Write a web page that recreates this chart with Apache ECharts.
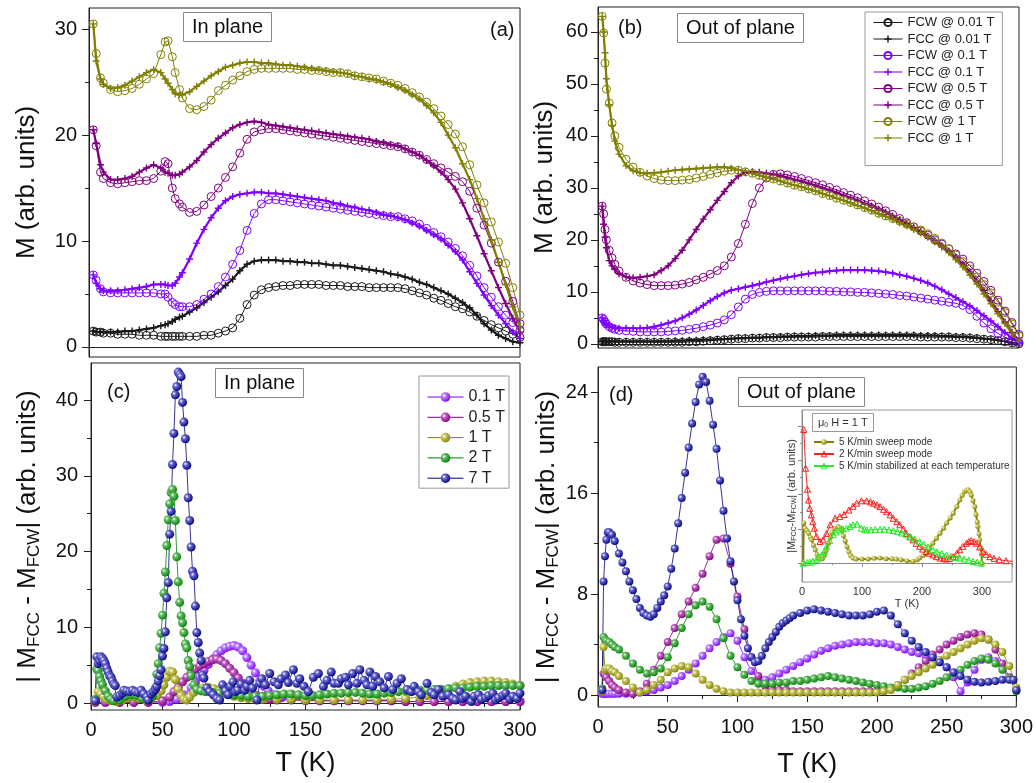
<!DOCTYPE html>
<html>
<head>
<meta charset="utf-8">
<script src="https://cdn.jsdelivr.net/npm/echarts@6/dist/echarts.min.js"></script>
<style>html,body{margin:0;padding:0;background:#fff}#main{width:1036px;height:783px}</style>
</head>
<body>
<div id="main"></div>
<script>
// temperature grids (K)
var tA = [3,5,8,10,15,20,25,30,35,40,45,50,53,55,58,60,63,65,70,75,80,85,90,95,100,105,110,115,120,125,130,135,140,145,150,155,160,165,170,175,180,185,190,195,200,205,210,215,220,225,230,235,240,245,250,255,260,265,270,275,280,285,290,295,300];
var tB = [3,4,5,6,8,10,12,15,20,25,30,35,40,45,50,55,60,65,70,75,80,85,90,95,100,105,110,115,120,125,130,135,140,145,150,155,160,165,170,175,180,185,190,195,200,205,210,215,220,225,230,235,240,245,250,255,260,265,270,275,280,285,290,295,300];

// (a) in plane M(T)
var aFcw001 = [1.5,1.4,1.4,1.3,1.3,1.2,1.2,1.2,1.1,1.1,1.1,1.0, 1.0,1.0,1.0,1.0,1.0,1.0, 1.0,1.0,1.1,1.1,1.3,1.5,1.8,2.7,4.0,4.9, 5.4,5.6,5.7,5.8,5.8,5.9,5.9,5.9,5.9,5.8, 5.8,5.8,5.7,5.7,5.7,5.6,5.6,5.6,5.6,5.6, 5.5,5.3,5.1,4.9,4.6,4.4,4.1,3.8,3.6,3.3, 2.9,2.5,2.1,1.8,1.5,1.2,0.9];
var aFcc001 = [1.5,1.4,1.4,1.4,1.4,1.4,1.5,1.5,1.6,1.7,1.8,2.0, 2.1,2.2,2.4,2.6,2.8,2.9, 3.3,3.7,4.2,4.7,5.2,5.8,6.4,7.2,7.8,8.1, 8.2,8.2,8.2,8.1,8.1,8.0,8.0,7.9,7.9,7.8, 7.7,7.7,7.6,7.5,7.4,7.3,7.2,7.1,6.9,6.8, 6.6,6.4,6.1,5.9,5.6,5.3,5.0,4.6,4.2,3.7, 3.0,2.2,1.6,1.1,0.8,0.5,0.4];
var aFcw01 = [6.8,6.3,5.5,5.2,5.1,5.1,5.1,5.1,5.1,5.1,5.1,5.0, 5.0,4.7,4.2,4.0,3.8,3.8, 3.8,4.0,4.5,5.0,5.7,6.6,7.8,9.1,11.0,12.6, 13.5,13.9,13.9,13.8,13.7,13.6,13.5,13.4,13.3,13.2, 13.1,13.0,12.9,12.8,12.7,12.6,12.5,12.4,12.3,12.3, 12.1,11.9,11.6,11.2,10.8,10.4,9.9,9.3,8.6,7.7, 6.7,5.6,4.7,3.8,3.0,2.3,1.6];
var aFcc01 = [6.8,6.0,5.5,5.3,5.3,5.3,5.4,5.5,5.6,5.7,5.9,5.9, 5.9,5.8,5.8,6.0,6.6,7.0, 8.3,9.8,11.1,12.2,13.1,13.8,14.2,14.4,14.5,14.6, 14.6,14.5,14.5,14.4,14.3,14.2,14.1,14.0,13.9,13.8, 13.6,13.5,13.3,13.2,13.0,12.9,12.7,12.5,12.4,12.2, 12.0,11.7,11.4,11.0,10.6,10.2,9.6,9.0,8.2,7.1, 6.0,4.9,3.9,3.0,2.2,1.4,0.8];
var aFcw05 = [20.5,19.0,16.5,15.9,15.5,15.4,15.5,15.6,15.7,15.7,15.9,16.6, 17.5,17.3,15.0,14.0,13.5,13.2, 12.7,12.8,13.4,14.2,15.0,16.0,17.0,18.3,19.6,20.3, 20.5,20.6,20.6,20.5,20.4,20.3,20.2,20.1,20.0,19.9, 19.8,19.7,19.6,19.5,19.4,19.3,19.2,19.1,19.0,18.9, 18.7,18.4,18.1,17.7,17.3,16.9,16.5,16.1,15.6,14.7, 13.1,11.5,9.8,8.0,6.2,4.3,2.2];
var aFcc05 = [20.5,19.2,17.2,16.5,15.8,15.8,15.9,16.1,16.5,16.9,17.2,16.9, 16.5,16.4,16.2,16.2,16.3,16.5, 17.0,17.6,18.4,19.1,19.7,20.2,20.7,21.0,21.2,21.3, 21.2,21.0,20.9,20.8,20.7,20.6,20.5,20.4,20.3,20.2, 20.1,20.0,19.9,19.8,19.7,19.6,19.4,19.3,19.1,19.0, 18.7,18.4,18.1,17.6,17.1,16.5,15.8,14.9,13.6,12.1, 10.5,8.8,7.2,5.6,4.1,2.7,1.4];
var aFcw1 = [30.5,27.7,25.4,24.9,24.3,24.1,24.2,24.4,24.8,25.3,25.8,27.6, 28.8,28.9,27.4,25.9,24.3,23.5, 22.5,22.4,22.7,23.3,24.2,24.7,25.2,25.6,26.0,26.2, 26.3,26.3,26.3,26.3,26.3,26.2,26.2,26.1,26.1,26.0, 25.9,25.9,25.8,25.6,25.5,25.4,25.3,25.1,24.9,24.7, 24.4,24.0,23.6,23.1,22.5,21.8,21.0,20.1,18.9,17.2, 15.3,13.6,11.8,9.9,7.9,5.6,3.0];
var aFcc1 = [30.5,27.0,25.3,24.8,24.4,24.5,24.7,25.1,25.5,25.9,26.2,25.9, 25.3,24.9,24.3,23.9,23.8,23.8, 24.1,24.6,25.1,25.6,26.0,26.4,26.6,26.8,26.9,26.9, 26.8,26.8,26.7,26.6,26.6,26.5,26.4,26.3,26.2,26.1, 26.0,25.9,25.8,25.6,25.5,25.3,25.2,25.0,24.8,24.5, 24.2,23.8,23.4,22.8,22.1,21.2,20.0,18.8,17.3,15.8, 14.0,12.1,10.1,8.0,5.9,3.8,1.8];

// (b) out of plane M(T)
var bFcw001 = [0.4,0.4,0.4,0.4,0.4,0.4,0.3, 0.3,0.3,0.3,0.3,0.3,0.3,0.3,0.3,0.3,0.3, 0.4,0.4,0.5,0.6,0.7,0.8,0.9,1.0,1.0,1.1, 1.1,1.2,1.2,1.2,1.3,1.3,1.3,1.3,1.3,1.4, 1.4,1.4,1.4,1.4,1.4,1.4,1.4,1.4,1.4,1.4, 1.4,1.4,1.4,1.3,1.3,1.3,1.3,1.3,1.2,1.2, 1.1,1.0,0.9,0.8,0.6,0.4,0.2,0.0];
var bFcc001 = [0.5,0.5,0.5,0.5,0.5,0.5,0.5, 0.5,0.5,0.5,0.5,0.5,0.5,0.5,0.5,0.6,0.6, 0.7,0.7,0.8,0.8,0.9,0.9,1.0,1.1,1.1,1.2, 1.2,1.3,1.3,1.4,1.4,1.5,1.5,1.5,1.6,1.6, 1.6,1.7,1.7,1.7,1.7,1.7,1.7,1.7,1.7,1.7, 1.7,1.7,1.7,1.6,1.6,1.6,1.5,1.5,1.4,1.4, 1.3,1.2,1.0,0.9,0.7,0.5,0.2,0.0];
var bFcw01 = [5.0,4.7,4.2,3.8,3.3,3.0,2.8, 2.6,2.5,2.4,2.3,2.3,2.3,2.3,2.4,2.5,2.6, 2.8,3.0,3.3,3.6,4.0,4.6,5.6,7.1,8.6,9.5, 9.9,10.1,10.2,10.2,10.2,10.2,10.2,10.2,10.2,10.2, 10.1,10.1,10.0,10.0,9.9,9.9,9.8,9.7,9.6,9.5, 9.3,9.2,9.0,8.8,8.6,8.4,8.2,8.0,7.8,7.4, 6.6,5.3,4.0,2.9,2.0,1.3,0.7,0.3];
var bFcc01 = [5.0,4.5,4.0,3.7,3.4,3.2,3.1, 3.0,3.0,3.0,3.0,3.1,3.3,3.6,4.0,4.4,5.0, 5.7,6.5,7.4,8.3,9.1,9.8,10.3,10.6,10.9,11.2, 11.5,11.9,12.2,12.5,12.8,13.0,13.3,13.5,13.7,13.8, 14.0,14.1,14.2,14.2,14.2,14.2,14.1,14.0,13.8,13.6, 13.3,13.0,12.6,12.2,11.7,11.1,10.4,9.6,8.9,8.1, 7.3,6.4,5.4,4.4,3.3,2.2,1.1,0.3];
var bFcw05 = [26.5,25.0,22.0,20.0,18.0,16.5,15.3, 14.0,12.8,12.1,11.7,11.4,11.2,11.2,11.2,11.3,11.5, 11.8,12.3,12.8,13.4,14.1,15.0,16.7,19.3,23.0,27.0, 30.0,31.9,32.6,32.7,32.5,32.2,31.8,31.4,31.0,30.6, 30.1,29.6,29.1,28.6,28.1,27.5,26.9,26.3,25.6,24.9, 24.1,23.3,22.5,21.7,20.9,20.0,19.2,18.3,17.3,16.3, 15.0,13.6,12.0,10.3,8.4,6.3,4.1,1.8];
var bFcc05 = [26.5,23.0,20.5,18.5,16.0,15.0,14.3, 13.5,12.9,12.7,12.8,13.0,13.3,14.1,15.0,16.4,18.0, 20.0,22.0,24.0,25.8,27.6,29.3,31.0,32.3,32.9,33.1, 33.0,32.8,32.6,32.3,32.0,31.6,31.3,30.9,30.5,30.0, 29.6,29.1,28.6,28.1,27.6,27.0,26.5,25.9,25.3,24.6, 23.9,23.2,22.4,21.6,20.7,19.8,18.8,17.8,16.6,15.3, 13.8,12.1,10.3,8.3,6.2,4.2,2.2,0.6];
var bFcw1 = [63.0,59.8,54.0,49.0,46.3,42.5,40.0, 37.8,35.5,34.0,33.0,32.3,31.8,31.5,31.4,31.4,31.5, 31.6,31.9,32.2,32.6,32.9,33.2,33.4,33.4,33.1,32.8, 32.4,32.0,31.7,31.3,30.9,30.5,30.2,29.8,29.4,28.9, 28.5,28.0,27.6,27.2,26.7,26.2,25.7,25.1,24.6,24.1, 23.6,23.0,22.5,21.9,21.2,20.3,19.4,18.3,17.1,15.8, 14.4,12.9,11.4,9.8,8.0,6.0,3.8,1.5];
var bFcc1 = [63.0,60.0,56.0,51.0,46.0,42.0,39.0, 36.5,34.3,33.3,32.9,32.8,32.9,33.0,33.2,33.4,33.5, 33.6,33.7,33.8,33.9,34.0,34.0,33.8,33.5,33.2,32.8, 32.4,32.0,31.7,31.3,30.9,30.5,30.2,29.8,29.4,28.9, 28.5,28.0,27.6,27.1,26.6,26.1,25.6,25.0,24.5,23.9, 23.3,22.7,22.0,21.3,20.5,19.6,18.6,17.5,16.2,14.8, 13.2,11.5,9.6,7.7,5.8,3.9,2.0,0.5];

// (c) in plane |Mfcc - Mfcw|, [T, value]
var cPurple = [[3,0.1],[10,0.1],[20,0.1],[30,0.1],[40,0.1],[50,0.1],[55,0.2],[60,0.5],[65,1.1],[70,2.0],[73,2.7],[76,3.5],[79,4.3],[82,5.1],[85,5.8],[88,6.4],[91,6.9],[94,7.3],[97,7.5],[100,7.6],[103,7.4],[106,6.9],[109,6.0],[112,5.0],[115,4.0],[118,3.0],[121,2.2],[124,1.6],[128,1.1],[133,0.7],[140,0.5],[150,0.4],[160,0.3],[170,0.3],[180,0.3],[190,0.3],[200,0.3],[210,0.3],[220,0.2],[230,0.2],[240,0.2],[250,0.2],[260,0.2],[270,0.2],[280,0.2],[290,0.2],[300,0.2]];
var cMagenta = [[3,0.1],[10,0.1],[20,0.1],[30,0.1],[40,0.1],[50,0.3],[55,0.8],[58,1.5],[61,2.1],[64,2.8],[67,3.4],[70,4.0],[73,4.5],[76,4.9],[79,5.2],[82,5.5],[85,5.7],[88,5.8],[91,5.6],[94,5.2],[97,4.6],[100,4.0],[103,3.3],[106,2.6],[109,2.0],[112,1.5],[116,1.0],[120,0.7],[125,0.5],[130,0.4],[140,0.4],[150,0.3],[160,0.3],[170,0.3],[180,0.3],[190,0.3],[200,0.3],[210,0.3],[220,0.2],[230,0.2],[240,0.2],[250,0.2],[260,0.2],[270,0.2],[280,0.2],[290,0.2],[300,0.2]];
var cOlive = [[3,0.2],[5,1.5],[7,1.2],[9,0.8],[11,0.5],[14,0.3],[18,0.2],[22,0.4],[26,0.7],[30,0.8],[34,0.6],[38,0.4],[42,0.6],[46,1.0],[49,1.6],[51,2.4],[53,3.4],[55,4.2],[57,4.1],[59,3.1],[61,1.8],[63,1.0],[65,0.5],[67,0.4],[69,0.8],[72,1.4],[75,1.8],[78,2.0],[82,2.1],[86,1.9],[90,1.6],[95,1.2],[100,0.9],[105,0.7],[110,0.6],[115,0.5],[120,0.5],[130,0.5],[140,0.5],[150,0.4],[160,0.4],[170,0.4],[180,0.4],[190,0.4],[200,0.4],[210,0.5],[220,0.6],[230,0.8],[235,1.0],[240,1.3],[245,1.6],[250,1.9],[255,2.2],[260,2.5],[265,2.7],[270,2.8],[275,2.9],[280,2.9],[285,2.8],[290,2.7],[295,2.5],[300,2.3]];
var cGreen = [[3,0.5],[4,4.5],[5,4.3],[6,3.5],[7,2.9],[8,2.4],[10,1.6],[12,0.9],[14,0.5],[16,0.3],[20,0.4],[24,0.9],[28,1.1],[32,1.0],[36,0.6],[40,0.4],[43,0.9],[45,2.0],[46,3.8],[47,5.2],[48,7.3],[49,9.2],[50,11.6],[51,14.5],[52,17.3],[53,20.8],[54,24.2],[55,26.3],[56,27.8],[57,28.2],[58,27.3],[59,24.1],[60,19.3],[61,16.0],[62,13.3],[63,11.5],[64,10.6],[65,9.3],[66,7.8],[67,7.3],[68,5.6],[69,4.8],[70,3.6],[72,2.4],[74,1.8],[77,1.6],[80,1.5],[85,1.4],[90,1.3],[95,1.2],[100,1.1],[105,1.0],[110,0.9],[115,0.9],[120,0.9],[125,1.0],[130,1.1],[135,1.2],[140,1.2],[145,1.1],[150,1.0],[155,1.0],[160,1.1],[165,1.2],[170,1.3],[175,1.3],[180,1.4],[185,1.4],[190,1.3],[195,1.2],[200,1.2],[205,1.3],[210,1.4],[215,1.5],[220,1.6],[225,1.6],[230,1.7],[235,1.7],[240,1.8],[245,1.8],[250,1.9],[255,2.0],[260,2.0],[265,2.1],[270,2.2],[275,2.2],[280,2.3],[285,2.3],[290,2.3],[295,2.3],[300,2.3]];
var cNavy = [[3,0.3],[4,6.1],[5,5.2],[6,5.6],[7,6.1],[8,5.9],[9,5.6],[10,5.2],[11,4.6],[12,4.1],[13,3.6],[14,3.4],[15,2.9],[16,2.5],[17,2.3],[18,0.8],[20,1.0],[22,1.3],[23,1.7],[25,1.6],[27,1.5],[29,1.7],[31,1.5],[33,1.4],[35,1.7],[37,1.2],[39,0.8],[40,0.4],[42,1.2],[43.5,1.5],[45,1.8],[46,2.2],[47,2.9],[48,3.6],[49,4.4],[50,6.2],[51,7.2],[52,9.4],[53,13.9],[54,15.9],[55,22.3],[56,25.3],[57,31.5],[58,35.6],[59,40.7],[60,41.8],[61,43.7],[62,43.4],[63,43.1],[64,39.7],[65,37.1],[66,34.9],[67,31.4],[68,27.1],[69,24.1],[70,20.6],[71,17.4],[72,16.8],[73,12.8],[74,9.3],[75,8.0],[76,6.6],[77,5.6],[78,3.7],[79,3.3],[81,2.0],[83,1.5],[85.5,1.1],[88,0.6],[90,0.4],[92,2.4],[94,1.6],[96,1.1],[97.5,2.2],[99.3,2.8],[101,1.5],[102.7,1.7],[105,2.5],[107.5,1.7],[109,2.2],[111,3.0],[113,2.0],[116,0.4],[118,2.6],[119.5,3.2],[122,2.4],[125,3.9],[128,2.8],[131,2.4],[133,3.2],[136,3.7],[138,2.7],[141.5,4.4],[144,2.6],[146,3.2],[149,2.2],[152,1.5],[155.5,3.4],[159,3.9],[162.5,2.2],[165,3.0],[168,4.1],[170,2.6],[173,2.6],[175,3.2],[178,3.4],[180,2.4],[183,3.9],[186,2.6],[188,4.4],[191,3.0],[193,2.4],[195,4.1],[197,2.2],[199,3.5],[202,2.8],[205,2.0],[208,3.5],[211,1.8],[214,2.6],[217,3.2],[221,1.8],[224,1.5],[226,2.2],[229,1.5],[231,1.1],[235,2.6],[238,1.4],[240,1.1],[243,1.8],[246,0.9],[250,1.1],[253,0.6],[255,0.4],[258,1.5],[260,0.6],[262,0.9],[266,0.2],[268,0.9],[271,1.1],[273,0.5],[276,0.7],[278,1.0],[281,1.3],[283,0.4],[285,0.7],[288,1.0],[290,1.3],[293,0.5],[295,0.9],[298,0.6],[300,1.3]];

// (d) out of plane |Mfcc - Mfcw| on tB, navy as [T, value]
var dPurple = [0.1,0.1,0.1,0.1,0.1,0.1,0.1, 0.1,0.1,0.1,0.2,0.3,0.4,0.6,0.8,1.1,1.5, 2.0,2.5,3.1,3.7,4.2,4.6,4.9,4.3,3.0,1.9, 1.3,1.2,1.4,1.7,2.0,2.3,2.6,2.9,3.2,3.5, 3.7,3.9,4.0,4.1,4.2,4.2,4.2,4.1,4.1,4.0, 3.8,3.6,3.4,3.3,3.1,2.9,2.6,2.2,1.4,0.3, 1.0,2.0,2.8,3.0,2.7,2.1,1.3,0.4];
var dMagenta = [0.5,1.7,1.6,1.4,1.1,0.8,0.6, 0.4,0.2,0.1,0.3,0.9,2.0,3.1,4.2,5.3,6.4, 7.4,8.5,9.6,11.0,12.3,12.4,10.4,7.8,5.2,3.0, 1.5,0.7,0.5,0.4,0.4,0.3,0.3,0.3,0.3,0.3, 0.3,0.3,0.3,0.3,0.3,0.3,0.3,0.3,0.4,0.5, 0.8,1.2,1.7,2.2,2.7,3.2,3.6,4.0,4.3,4.6, 4.8,4.9,4.8,4.4,3.6,2.5,1.4,0.4];
var dGreen = [0.5,4.6,4.4,4.3,4.2,4.0,3.8, 3.6,3.1,2.5,2.0,1.7,1.8,2.1,3.0,4.1,5.3, 6.4,7.1,7.4,7.0,6.0,4.5,3.1,2.2,1.6,1.1, 0.9,0.9,0.9,1.0,1.0,1.1,1.1,1.2,1.3,1.4, 1.5,1.4,1.3,1.2,1.1,1.0,0.9,0.8,0.7,0.6, 0.6,0.5,0.5,0.6,0.7,0.9,1.1,1.4,1.7,2.0, 2.4,2.7,2.9,2.8,2.5,2.0,1.3,0.3];
var dOlive = [0.3,3.8,2.0,2.1,2.1,1.9,1.8, 1.5,1.1,0.6,0.2,0.4,0.8,1.2,1.8,2.1,2.3, 2.2,1.7,1.2,0.8,0.5,0.3,0.2,0.2,0.2,0.2, 0.2,0.2,0.2,0.2,0.2,0.2,0.2,0.2,0.2,0.2, 0.2,0.2,0.2,0.2,0.2,0.2,0.2,0.2,0.3,0.4, 0.8,1.2,1.5,1.8,2.1,2.4,2.8,3.1,3.4,3.7, 4.0,4.3,4.5,4.4,4.0,3.4,2.3,0.6];
var dNavy = [[3,0.4],[4,9.0],[5,11.0],[6,12.3],[7,12.9],[8,12.9],[10,12.7],[12,12.2],[15,11.2],[17.5,10.5],[20,9.8],[22.5,9.0],[25,8.3],[27.5,7.6],[30,6.9],[32.5,6.5],[35,6.3],[37.5,6.2],[40,6.4],[42.5,6.9],[45,7.4],[47.5,7.9],[50,8.6],[52.5,10.0],[55,11.6],[57.5,13.6],[60,15.6],[62.5,17.6],[65,19.6],[67.5,21.5],[70,23.2],[72.5,24.6],[75,25.2],[77.5,24.8],[80,23.3],[82.5,21.4],[85,19.5],[87.5,17.0],[90,14.6],[92.5,12.4],[95,10.6],[97.5,9.0],[100,7.5],[102.5,6.0],[105,4.7],[107.5,3.7],[110,3.0],[112.5,2.6],[115,2.7],[117.5,3.1],[120,3.7],[122.5,4.2],[125,4.6],[127.5,5.0],[130,5.4],[132.5,5.7],[135,5.9],[137.5,6.1],[140,6.3],[145,6.5],[150,6.7],[155,6.8],[160,6.7],[165,6.6],[170,6.5],[175,6.4],[180,6.3],[185,6.3],[190,6.3],[195,6.4],[200,6.6],[205,6.7],[210,6.3],[215,5.6],[220,4.9],[225,4.3],[230,3.8],[235,3.4],[240,3.0],[245,2.6],[250,2.2],[255,1.8],[260,1.5],[265,1.2],[270,1.05],[275,1.0],[280,1.05],[285,1.1],[290,1.2],[295,1.2],[298,1.2],[300,0.4]];

// inset (1 T, out of plane)
var insOlive = [[2,0],[3,1.17],[5,1.02],[8,0.95],[11,0.87],[14,0.75],[16,0.68],[19,0.52],[22,0.39],[25,0.25],[28,0.15],[31,0.12],[34,0.13],[37,0.22],[40,0.36],[44,0.58],[47,0.75],[50,0.9],[55,1.02],[60,1.07],[63,1.03],[66,0.97],[69,0.8],[72,0.65],[75,0.48],[78,0.33],[81,0.22],[85,0.15],[90,0.12],[100,0.12],[110,0.12],[120,0.14],[130,0.15],[140,0.13],[150,0.13],[157,0.12],[165,0.1],[175,0.07],[185,0.05],[192,0.1],[196,0.15],[202,0.22],[207,0.29],[212,0.42],[218,0.58],[224,0.73],[230,0.87],[236,1.02],[241,1.17],[247,1.32],[252,1.46],[258,1.65],[263,1.84],[267,1.98],[271,2.09],[274,2.13],[277,2.14],[280,2.08],[282,1.99],[285,1.83],[288,1.65],[290,1.42],[292,1.2],[293,1.07],[295,0.85],[296,0.68],[298,0.45],[299,0.27],[300,0]];
var insRed = [[3,3.9],[6,2.77],[9,2.16],[11,1.84],[13,1.6],[15.5,1.41],[18,1.21],[20.5,1.02],[24,0.78],[30,0.63],[35,0.68],[41,0.87],[47,1.12],[55,1.31],[63,1.36],[70,1.42],[78,1.55],[85,1.66],[91,1.75],[99,1.82],[108,1.82],[114,1.79],[119,1.75],[125,1.7],[130,1.65],[136,1.57],[141,1.5],[147,1.41],[152,1.31],[158,1.21],[163,1.12],[169,1.0],[174,0.87],[180,0.77],[185,0.68],[190,0.58],[196,0.49],[201,0.41],[207,0.34],[212,0.29],[218,0.24],[224,0.19],[230,0.15],[236,0.13],[241,0.12],[246,0.14],[252,0.19],[258,0.29],[263,0.39],[268,0.49],[274,0.58],[278,0.63],[282,0.66],[287,0.63],[291,0.58],[296,0.47],[302,0.34],[307,0.26],[313,0.19],[320,0.14],[329,0.1],[340,0.07],[352,0.05]];
var insGreen = [[2,0],[8,0.02],[13,0.03],[18,0.06],[24,0.1],[28,0.16],[33,0.24],[37,0.34],[41,0.49],[46,0.66],[52,0.83],[57,0.91],[63,0.97],[68,1.0],[74,1.02],[80,1.07],[85,1.12],[92,1.14],[99,1.02],[104,0.99],[108,0.97],[115,0.97],[122,0.98],[130,0.99],[137,0.99],[145,0.97],[152,0.95],[159,0.92],[166,0.88],[174,0.83],[181,0.77],[188,0.7],[196,0.63],[203,0.55],[210,0.47],[218,0.39],[225,0.33],[233,0.28],[241,0.24],[248,0.2],[256,0.17],[263,0.15],[270,0.12],[278,0.09],[285,0.05],[292,0.03],[299,0]];

// tick values
var yTicksA = [0,10,20,30], yMinorA = [5,15,25];
var yTicksB = [0,10,20,30,40,50,60], yMinorB = [5,15,25,35,45,55];
var yTicksC = [0,10,20,30,40], yMinorC = [5,15,25,35];
var yTicksD = [0,8,16,24], yMinorD = [4,12,20];
var yTicksIns = [0,1,2,3,4], yMinorIns = [0.5,1.5,2.5,3.5];

var FONT = 'Liberation Sans, Arial, Helvetica, sans-serif';
var BLACK = '#1a1a1a', PURPLE = '#8000ff', MAGENTA = '#800080', OLIVE = '#808000', GREEN = '#008000', NAVY = '#000080';
var RED = '#ff2020', LIME = '#22ee22';
var PLUS = 'path://M4,0H6V4H10V6H6V10H4V6H0V4H4Z';

var chart = echarts.init(document.getElementById('main'));

function zip(t, v) {
    return t.map(function (x, i) { return [x, v[i]]; });
}
// open circles (FCW)
function fcw(name, color, g, t, v) {
    return {
        name: name, type: 'line', xAxisIndex: g, yAxisIndex: g, data: zip(t, v),
        symbol: 'circle', symbolSize: 8,
        itemStyle: { color: 'rgba(255,255,255,0)', borderColor: color, borderWidth: 1 },
        lineStyle: { color: color, width: 1 }
    };
}
// crosses (FCC)
function fcc(name, color, g, t, v) {
    return {
        name: name, type: 'line', xAxisIndex: g, yAxisIndex: g, data: zip(t, v),
        symbol: PLUS, symbolSize: 7,
        itemStyle: { color: color },
        lineStyle: { color: color, width: 2.2 }
    };
}
// shaded balls
function ball(name, color, light, g, data, size) {
    return {
        name: name, type: 'line', xAxisIndex: g, yAxisIndex: g, data: data,
        symbol: 'circle', symbolSize: size || 9,
        itemStyle: {
            color: { type: 'radial', x: 0.35, y: 0.35, r: 0.7,
                colorStops: [{ offset: 0, color: '#ffffff' }, { offset: 0.3, color: light }, { offset: 1, color: color }] }
        },
        lineStyle: { color: color, width: 0.8 }
    };
}
function tri(name, color, g, data) {
    return {
        name: name, type: 'line', xAxisIndex: g, yAxisIndex: g, data: data,
        symbol: 'triangle', symbolSize: 6,
        itemStyle: { color: 'rgba(255,255,255,0)', borderColor: color, borderWidth: 1 },
        lineStyle: { color: color, width: 1 }
    };
}
// main y axis
function yMain(g, min, max, ticks, margin, name, gap, nameStyle) {
    return {
        gridIndex: g, type: 'value', min: min, max: max,
        axisLine: { show: true, lineStyle: { color: '#222' } },
        axisTick: { customValues: ticks, length: 7, lineStyle: { color: '#222' } },
        axisLabel: { customValues: ticks, fontSize: 20, color: '#111', margin: margin },
        splitLine: { show: false },
        name: name, nameLocation: 'middle', nameGap: gap, nameTextStyle: nameStyle
    };
}
// extra y axis carrying only the minor ticks
function yMinor(g, min, max, ticks, len, color) {
    return {
        gridIndex: g, type: 'value', min: min, max: max, position: 'left',
        axisLine: { show: false },
        axisTick: { customValues: ticks, length: len, lineStyle: { color: color } },
        axisLabel: { show: false }, splitLine: { show: false }
    };
}
function xTop(g) {
    return {
        gridIndex: g, type: 'value', min: 0, max: 300,
        axisLine: { lineStyle: { color: '#222' } }, axisTick: { show: false },
        axisLabel: { show: false }, splitLine: { show: false }
    };
}
function xBottom(g, gap) {
    return {
        gridIndex: g, type: 'value', min: 0, max: 300, interval: 50,
        axisLine: { lineStyle: { color: '#222' } },
        axisTick: { length: 7, lineStyle: { color: '#222' } },
        minorTick: { show: true, splitNumber: 2, length: 4, lineStyle: { color: '#222' } },
        axisLabel: { fontSize: 20, color: '#111', margin: 10 },
        splitLine: { show: false }, minorSplitLine: { show: false },
        name: 'T (K)', nameLocation: 'middle', nameGap: gap,
        nameTextStyle: { fontSize: 27, color: '#111' }
    };
}
function legendItem(name, color, symbolFill) {
    return { name: name, itemStyle: { color: symbolFill, borderColor: color, borderWidth: 1 } };
}

var diffName = '| M{s|FCC} - M{s|FCW}| (arb. units)';
var diffStyle = { fontSize: 26, color: '#111', rich: { s: { fontSize: 17, color: '#111', padding: [14, 0, 0, 0] } } };
var mStyle = { fontSize: 26, color: '#111' };

function boxTitle(text, left, top, size) {
    return {
        text: text, left: left, top: top, padding: [4, 9], borderColor: '#888', borderWidth: 1,
        textStyle: { fontSize: size || 20, fontWeight: 'normal', color: '#111', lineHeight: 22 }
    };
}
function plainTitle(text, left, top) {
    return { text: text, left: left, top: top, padding: 0,
        textStyle: { fontSize: 20, fontWeight: 'normal', color: '#111', lineHeight: 20 } };
}

var option = {
    animation: false,
    textStyle: { fontFamily: FONT },
    title: [
        boxTitle('In plane', 183, 12), plainTitle('(a)', 490, 20),
        boxTitle('Out of plane', 677, 13), plainTitle('(b)', 618, 18),
        boxTitle('In plane', 215, 368), plainTitle('(c)', 107, 382),
        boxTitle('Out of plane', 738, 377), plainTitle('(d)', 609, 385),
        {
            text: 'μ{s|0} H = 1 T', left: 812, top: 413, padding: [3, 6], borderColor: '#999', borderWidth: 1,
            textStyle: { fontSize: 11, fontWeight: 'normal', color: '#333', lineHeight: 13,
                rich: { s: { fontSize: 7, color: '#333', padding: [6, 0, 0, 0] } } }
        }
    ],
    legend: [
        {
            data: ['FCW @ 0.01 T', 'FCC @ 0.01 T', 'FCW @ 0.1 T', 'FCC @ 0.1 T', 'FCW @ 0.5 T', 'FCC @ 0.5 T', 'FCW @ 1 T', 'FCC @ 1 T'],
            left: 865, top: 12, orient: 'vertical', selectedMode: false,
            itemWidth: 29, itemHeight: 9, itemGap: 3.5,
            padding: [4, 8, 21, 8], borderColor: '#999', borderWidth: 1,
            lineStyle: { width: 1 },
            textStyle: { fontSize: 13, color: '#222' }
        },
        {
            data: ['0.1 T', '0.5 T', '1 T', '2 T', '7 T'],
            left: 419, top: 376, orient: 'vertical', selectedMode: false,
            itemWidth: 36, itemHeight: 12, itemGap: 4.3,
            padding: [13, 4, 2, 8], borderColor: '#999', borderWidth: 1,
            lineStyle: { width: 1 },
            textStyle: { fontSize: 16, color: '#222' }
        },
        {
            data: [
                '5 K/min sweep mode',
                legendItem('2 K/min sweep mode', RED, 'rgba(255,255,255,0)'),
                legendItem('5 K/min stabilized at each temperature', LIME, 'rgba(255,255,255,0)')
            ],
            left: 813, top: 437, orient: 'vertical', selectedMode: false,
            itemWidth: 20, itemHeight: 7, itemGap: 2, padding: 0,
            textStyle: { fontSize: 10, color: '#333' }
        }
    ],
    grid: [
        { left: 89, top: 8, width: 431, height: 349, show: true, borderColor: '#222', borderWidth: 1 },
        { left: 598, top: 7, width: 421, height: 341, show: true, borderColor: '#222', borderWidth: 1 },
        { left: 91, top: 363, width: 429, height: 347, show: true, borderColor: '#222', borderWidth: 1 },
        { left: 598, top: 367, width: 419, height: 340, show: true, borderColor: '#222', borderWidth: 1 },
        { left: 802, top: 410, width: 210, height: 172, show: true, borderColor: '#999', borderWidth: 1, backgroundColor: '#fff' }
    ],
    xAxis: [
        xTop(0), xTop(1), xBottom(2, 40), xBottom(3, 44),
        {
            gridIndex: 4, type: 'value', min: 0, max: 350, interval: 100,
            axisLine: { lineStyle: { color: '#888' } },
            axisTick: { length: 4, lineStyle: { color: '#888' } },
            minorTick: { show: true, splitNumber: 2, length: 2, lineStyle: { color: '#888' } },
            axisLabel: { fontSize: 11, color: '#333', margin: 4, showMaxLabel: false },
            splitLine: { show: false }, minorSplitLine: { show: false },
            name: 'T (K)', nameLocation: 'middle', nameGap: 16, nameTextStyle: { fontSize: 11, color: '#333' }
        }
    ],
    yAxis: [
        yMain(0, -0.95, 32, yTicksA, 12, 'M (arb. units)', 49, mStyle),
        yMain(1, -0.8, 64.8, yTicksB, 10, 'M (arb. units)', 40, mStyle),
        yMain(2, -0.92, 44.9, yTicksC, 13, diffName, 48, diffStyle),
        yMain(3, -0.95, 25.98, yTicksD, 10, diffName, 36, diffStyle),
        {
            gridIndex: 4, type: 'value', min: -0.55, max: 4.47,
            axisLine: { show: true, lineStyle: { color: '#888' } },
            axisTick: { customValues: yTicksIns, length: 4, lineStyle: { color: '#888' } },
            axisLabel: { show: false }, splitLine: { show: false },
            name: '|M{s|FCC}-M{s|FCW}| (arb. units)', nameLocation: 'middle', nameGap: 4,
            nameTextStyle: { fontSize: 11, color: '#333', rich: { s: { fontSize: 7, color: '#333', padding: [6, 0, 0, 0] } } }
        },
        yMinor(0, -0.95, 32, yMinorA, 4, '#222'),
        yMinor(1, -0.8, 64.8, yMinorB, 4, '#222'),
        yMinor(2, -0.92, 44.9, yMinorC, 4, '#222'),
        yMinor(3, -0.95, 25.98, yMinorD, 4, '#222'),
        yMinor(4, -0.55, 4.47, yMinorIns, 2, '#888')
    ],
    series: [
        // (a)
        fcw('FCW @ 0.01 T (a)', BLACK, 0, tA, aFcw001),
        fcc('FCC @ 0.01 T (a)', BLACK, 0, tA, aFcc001),
        fcw('FCW @ 0.1 T (a)', PURPLE, 0, tA, aFcw01),
        fcc('FCC @ 0.1 T (a)', PURPLE, 0, tA, aFcc01),
        fcw('FCW @ 0.5 T (a)', MAGENTA, 0, tA, aFcw05),
        fcc('FCC @ 0.5 T (a)', MAGENTA, 0, tA, aFcc05),
        fcw('FCW @ 1 T (a)', OLIVE, 0, tA, aFcw1),
        fcc('FCC @ 1 T (a)', OLIVE, 0, tA, aFcc1),
        // (b)
        fcw('FCW @ 0.01 T', BLACK, 1, tB, bFcw001),
        fcc('FCC @ 0.01 T', BLACK, 1, tB, bFcc001),
        fcw('FCW @ 0.1 T', PURPLE, 1, tB, bFcw01),
        fcc('FCC @ 0.1 T', PURPLE, 1, tB, bFcc01),
        fcw('FCW @ 0.5 T', MAGENTA, 1, tB, bFcw05),
        fcc('FCC @ 0.5 T', MAGENTA, 1, tB, bFcc05),
        fcw('FCW @ 1 T', OLIVE, 1, tB, bFcw1),
        fcc('FCC @ 1 T', OLIVE, 1, tB, bFcc1),
        // (c)
        ball('0.1 T', PURPLE, '#b880ff', 2, cPurple),
        ball('0.5 T', MAGENTA, '#c060c0', 2, cMagenta),
        ball('1 T', OLIVE, '#c8c860', 2, cOlive),
        ball('2 T', GREEN, '#66bb66', 2, cGreen),
        ball('7 T', NAVY, '#6666cc', 2, cNavy),
        // (d)
        ball('0.1 T (d)', PURPLE, '#b880ff', 3, zip(tB, dPurple), 8),
        ball('0.5 T (d)', MAGENTA, '#c060c0', 3, zip(tB, dMagenta), 8),
        ball('2 T (d)', GREEN, '#66bb66', 3, zip(tB, dGreen), 8),
        ball('1 T (d)', OLIVE, '#c8c860', 3, zip(tB, dOlive), 8),
        ball('7 T (d)', NAVY, '#6666cc', 3, dNavy, 8),
        // inset
        ball('5 K/min sweep mode', OLIVE, '#c8c860', 4, insOlive, 5),
        tri('2 K/min sweep mode', RED, 4, insRed),
        tri('5 K/min stabilized at each temperature', LIME, 4, insGreen)
    ]
};
option.series.forEach(function (s) { s.emphasis = { disabled: true }; s.silent = true; });
// inset sweep line a bit heavier
option.series[26].lineStyle.width = 2;

chart.setOption(option);
</script>
</body>
</html>
